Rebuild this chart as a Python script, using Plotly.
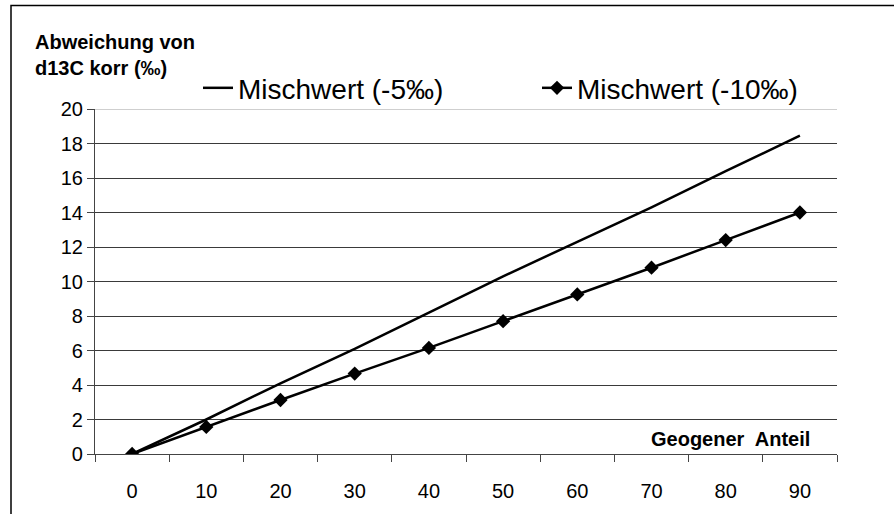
import plotly.graph_objects as go

categories = ["0", "10", "20", "30", "40", "50", "60", "70", "80", "90"]
mix_minus5 = [0, 2.0, 4.1, 6.1, 8.2, 10.3, 12.3, 14.3, 16.4, 18.45]
mix_minus10 = [0, 1.57, 3.13, 4.66, 6.15, 7.7, 9.25, 10.8, 12.4, 14.0]
y_ticks = [0, 2, 4, 6, 8, 10, 12, 14, 16, 18, 20]
series_names = ["Mischwert (-5‰)", "Mischwert (-10‰)"]

FONT = "Liberation Sans, Arial, sans-serif"
W, H = 894, 514
L, R, T, B = 95, 57, 109, 58
pw, ph = W - L - R, H - T - B

def px_x(p):
    return (p - L) / pw

def px_y(p):
    return (H - B - p) / ph

fig = go.Figure()
fig.add_trace(go.Scatter(x=categories, y=mix_minus5, name=series_names[0], mode="lines",
                         line=dict(color="black", width=2.5)))
fig.add_trace(go.Scatter(x=categories, y=mix_minus10, name=series_names[1], mode="lines+markers",
                         line=dict(color="black", width=2.5),
                         marker=dict(symbol="diamond", size=11, color="black")))

fig.update_layout(
    width=W, height=H,
    margin=dict(l=L, r=R, t=T, b=B, pad=0),
    paper_bgcolor="white", plot_bgcolor="white",
    font=dict(family=FONT, color="black"),
    showlegend=True,
    legend=dict(orientation="h", x=px_x(198), y=px_y(88), xanchor="left", yanchor="middle",
                font=dict(size=28, family=FONT), bgcolor="rgba(0,0,0,0)",
                entrywidth=294, entrywidthmode="pixels", traceorder="normal"),
    xaxis=dict(type="category", range=[-0.5, 9.5], showgrid=False, showline=True,
               linecolor="#444", linewidth=1.2,
               ticks="outside", ticklen=7, tickcolor="#444", tickson="boundaries",
               tickfont=dict(size=20, family=FONT), ticklabelstandoff=19, fixedrange=True),
    yaxis=dict(range=[0, 20], tickvals=y_ticks, showgrid=True, gridcolor="#3a3a3a", gridwidth=1,
               showline=True, linecolor="#444", linewidth=1.2, ticks="outside", ticklen=7,
               tickcolor="#444", tickfont=dict(size=20, family=FONT), zeroline=False,
               ticklabelstandoff=0),
    shapes=[
        dict(type="line", xref="paper", yref="y", x0=0, x1=1, y0=20, y1=20,
             line=dict(color="#cfcfcf", width=2), layer="above"),
        dict(type="rect", xref="paper", yref="paper", x0=px_x(11), x1=1.5, y0=-0.5, y1=px_y(5),
             line=dict(color="black", width=1.5), layer="below"),
    ],
    annotations=[
        dict(text="<b>Abweichung von<br>d13C korr (‰)</b>", xref="paper", yref="paper",
             x=px_x(33), y=px_y(29), xanchor="left", yanchor="top", showarrow=False, align="left",
             font=dict(size=20, family=FONT)),
        dict(text="<b>Geogener  Anteil</b>", xref="paper", yref="paper",
             x=px_x(812), y=px_y(454), xanchor="right", yanchor="bottom", showarrow=False,
             font=dict(size=20, family=FONT)),
    ],
)

fig.write_html("out.html")
